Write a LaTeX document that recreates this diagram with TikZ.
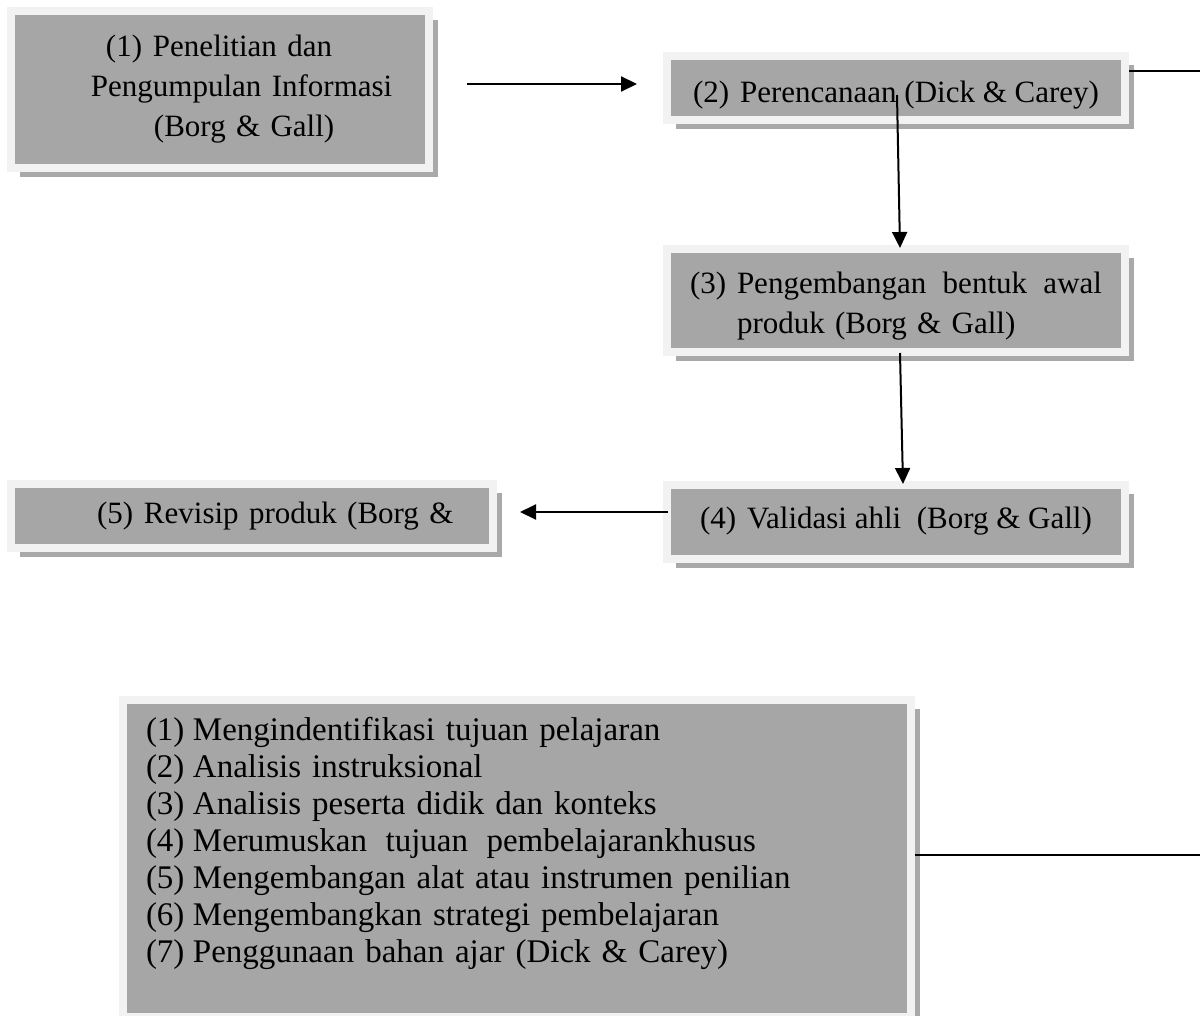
\documentclass[tikz,border=0pt]{standalone}
\usepackage{fontspec}
\setmainfont{Liberation Serif}
\usetikzlibrary{arrows.meta,shadows}
\definecolor{boxgray}{HTML}{A6A6A6}
\definecolor{framegray}{HTML}{F2F2F2}
\definecolor{shadegray}{HTML}{A9A9A9}
\newcommand{\lbl}[1]{\makebox[47pt][l]{#1}}

\begin{document}
\begin{tikzpicture}[x=1pt,y=-1pt]
	\tikzstyle{every node}+=[inner sep=0pt]
	\tikzstyle{stage}=[draw=framegray, line width=8pt, fill=boxgray, font=\fontsize{31pt}{40pt}\selectfont, drop shadow={shadow xshift=9pt, shadow yshift=-9pt, fill=shadegray, opacity=1}]
	\tikzstyle{flow}=[black, line width=2pt, -{Triangle[length=16pt,width=15pt]}]
	\tikzstyle{link}=[black, line width=2pt]
	\useasboundingbox (0,0) rectangle (1200,1016);
	\node [stage, minimum width=418pt, minimum height=157pt, text width=418pt, align=left] (stageone) at (220,89.5) {\hspace*{95pt}\lbl{(1)}Penelitian dan\\ \hspace*{80pt}Pengumpulan Informasi\\ \hspace*{143pt}(Borg \& Gall)};
	\node [stage, minimum width=458pt, minimum height=64pt] (stagetwo) at (896,88) {\rule{0pt}{35pt}\lbl{(2)}Perencanaan (Dick \& Carey)};
	\node [stage, minimum width=458pt, minimum height=103pt, text width=412pt, inner xsep=23pt, align=left] (stagethree) at (896,300.5) {\rule{0pt}{33pt}\lbl{(3)}\makebox[365pt]{Pengembangan\hfill bentuk\hfill awal}\\ \hspace*{47pt}produk (Borg \& Gall)};
	\node [stage, minimum width=458pt, minimum height=74pt] (stagefour) at (896,521.5) {\lbl{(4)}Validasi ahli\ \ (Borg \& Gall)};
	\node [stage, minimum width=482pt, minimum height=63.5pt, text width=482pt, align=left] (stagefive) at (252,516) {\hspace*{86pt}\lbl{(5)}Revisip produk (Borg \&};
	\node [stage, font=\fontsize{33pt}{37pt}\selectfont, minimum width=788.5pt, minimum height=317pt, text width=741.5pt, inner xsep=23.5pt, align=left] (stagelist) at (516.75,858.5) {\lbl{(1)}Mengindentifikasi tujuan pelajaran\\
		\lbl{(2)}Analisis instruksional\\
		\lbl{(3)}Analisis peserta didik dan konteks\\
		\lbl{(4)}\makebox[563pt]{Merumuskan\hfill tujuan\hfill pembelajarankhusus}\\
		\lbl{(5)}Mengembangan alat atau instrumen penilian\\
		\lbl{(6)}Mengembangkan strategi pembelajaran\\
		\lbl{(7)}Penggunaan bahan ajar (Dick \& Carey)\\
		\mbox{}};
	\coordinate (exittop) at (1200,71);
	\coordinate (exitbottom) at (1200,855);
	\draw [flow, shorten <=34pt, shorten >=26pt] ([yshift=5.5pt]stageone.east) -- ([yshift=4pt]stagetwo.west);
	\draw [flow] ([xshift=1pt,yshift=-7pt]stagetwo.center) -- ([xshift=4pt,yshift=-3pt]stagethree.north);
	\draw [flow] ([xshift=4pt,yshift=3pt]stagethree.south) -- ([xshift=7pt,yshift=-3.5pt]stagefour.north);
	\draw [flow] ([xshift=5pt,yshift=9.5pt]stagefour.west) -- ([xshift=23pt,yshift=4pt]stagefive.east);
	\draw [link] (stagetwo.east |- exittop) -- (exittop);
	\draw [link] (stagelist.east |- exitbottom) -- (exitbottom);
\end{tikzpicture}
\end{document}
